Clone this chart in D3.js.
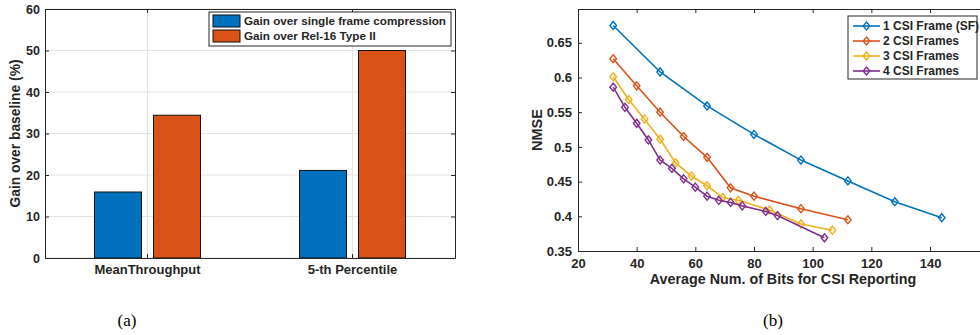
<!DOCTYPE html>
<html>
<head>
<meta charset="utf-8">
<script src="https://cdn.jsdelivr.net/npm/d3@7"></script>
<style>
  body { margin: 0; background: #fff; }
  svg text { font-family: "Liberation Sans", Arial, Helvetica, sans-serif; }
</style>
</head>
<body>
<svg id="fig" width="980" height="335"></svg>
<script>
// ---- panel (a) data ----
var barCategories = ["MeanThroughput", "5-th Percentile"];
var barSeries = ["Gain over single frame compression", "Gain over Rel-16 Type II"];
var gainSingleFrame = [15.9, 21.1];
var gainRel16 = [34.4, 50.0];
var barTicks = [0, 10, 20, 30, 40, 50, 60];

// ---- panel (b) data ----
var lineNames = ["1 CSI Frame (SF)", "2 CSI Frames", "3 CSI Frames", "4 CSI Frames"];
var bits1 = [32, 48, 64, 80, 96, 112, 128, 144];
var nmse1 = [0.675, 0.608, 0.559, 0.518, 0.481, 0.451, 0.421, 0.398];
var bits2 = [32, 40, 48, 56, 64, 72, 80, 96, 112];
var nmse2 = [0.627, 0.588, 0.550, 0.515, 0.485, 0.441, 0.429, 0.411, 0.395];
var bits3 = [32, 37.3, 42.7, 48, 53.3, 58.7, 64, 69.3, 74.7, 85.3, 96, 106.7];
var nmse3 = [0.601, 0.568, 0.540, 0.511, 0.477, 0.458, 0.444, 0.427, 0.423, 0.409, 0.389, 0.380];
var bits4 = [32, 36, 40, 44, 48, 52, 56, 60, 64, 68, 72, 76, 84, 88, 104];
var nmse4 = [0.586, 0.557, 0.534, 0.510, 0.481, 0.469, 0.454, 0.442, 0.429, 0.423, 0.420, 0.415, 0.407, 0.401, 0.369];
var xTicksB = [20, 40, 60, 80, 100, 120, 140];
var yTicksB = [0.35, 0.4, 0.45, 0.5, 0.55, 0.6, 0.65];

var colors = ["#0072BD", "#D95319", "#EDB120", "#7E2F8E"];
var axisColor = "#262626";

var svg = d3.select("#fig");

function styleAxis(g) {
  g.select(".domain").attr("stroke", axisColor).attr("stroke-width", 1);
  g.selectAll(".tick line").attr("stroke", axisColor);
  g.selectAll(".tick text")
    .attr("fill", axisColor)
    .style("font-size", "13px")
    .style("font-weight", "bold");
}

// ================= panel (a) =================
(function(){
  var left = 45, right = 455, top = 9, bottom = 258;
  var g = svg.append("g");

  var x = d3.scaleBand().domain(barCategories).range([left, right]);
  var xs = d3.scaleBand().domain(barSeries).range([-53, 53]).paddingInner(0.2034);
  var y = d3.scaleLinear().domain([0, 60]).range([bottom, top]);

  // grid
  g.selectAll(".hgrid").data(barTicks).enter().append("line")
    .attr("x1", left).attr("x2", right)
    .attr("y1", function(d){ return y(d); }).attr("y2", function(d){ return y(d); })
    .attr("stroke", "#e3e3e3").attr("stroke-width", 1);
  g.selectAll(".vgrid").data(barCategories).enter().append("line")
    .attr("x1", function(d){ return x(d) + x.bandwidth()/2; })
    .attr("x2", function(d){ return x(d) + x.bandwidth()/2; })
    .attr("y1", top).attr("y2", bottom)
    .attr("stroke", "#e3e3e3").attr("stroke-width", 1);

  var rows = barCategories.map(function(c, i){
    return [{cat: c, s: barSeries[0], v: gainSingleFrame[i], col: colors[0]},
            {cat: c, s: barSeries[1], v: gainRel16[i], col: colors[1]}];
  });
  var flat = [].concat.apply([], rows);

  g.selectAll(".bar").data(flat).enter().append("rect")
    .attr("x", function(d){ return x(d.cat) + x.bandwidth()/2 + xs(d.s); })
    .attr("width", xs.bandwidth())
    .attr("y", function(d){ return y(d.v); })
    .attr("height", function(d){ return y(0) - y(d.v); })
    .attr("fill", function(d){ return d.col; })
    .attr("stroke", "#111").attr("stroke-width", 1);

  // axes (ticks pointing inward)
  var ax = g.append("g").attr("transform", "translate(0," + bottom + ")")
    .call(d3.axisBottom(x).tickSizeInner(-4).tickSizeOuter(0).tickPadding(7));
  styleAxis(ax);
  var axT = g.append("g").attr("transform", "translate(0," + top + ")")
    .call(d3.axisTop(x).tickSizeInner(-4).tickSizeOuter(0).tickFormat(""));
  styleAxis(axT);
  var ay = g.append("g").attr("transform", "translate(" + left + ",0)")
    .call(d3.axisLeft(y).tickValues(barTicks).tickSizeInner(-4).tickSizeOuter(0).tickPadding(5));
  styleAxis(ay);
  ay.selectAll(".tick text").style("font-size", "12.5px");
  var ayR = g.append("g").attr("transform", "translate(" + right + ",0)")
    .call(d3.axisRight(y).tickValues(barTicks).tickSizeInner(-4).tickSizeOuter(0).tickFormat(""));
  styleAxis(ayR);

  g.append("text")
    .attr("transform", "translate(15.5," + ((top + bottom)/2) + ") rotate(-90)")
    .attr("text-anchor", "middle").attr("dy", "0.35em")
    .attr("fill", axisColor).style("font-size", "13.8px").style("font-weight", "bold")
    .text("Gain over baseline (%)");

  // legend
  var lg = g.append("g").attr("transform", "translate(209,12)");
  lg.append("rect").attr("width", 242).attr("height", 34)
    .attr("fill", "#fff").attr("stroke", axisColor).attr("stroke-width", 1);
  barSeries.forEach(function(s, i){
    lg.append("rect").attr("x", 4).attr("y", 3 + i*15).attr("width", 27).attr("height", 12)
      .attr("fill", colors[i]).attr("stroke", "#111");
    lg.append("text").attr("x", 35).attr("y", 9 + i*15).attr("dy", "0.35em")
      .attr("fill", axisColor).style("font-size", "11.7px").style("font-weight", "bold")
      .text(s);
  });

  svg.append("text").attr("x", 127).attr("y", 326).attr("text-anchor", "middle")
    .style("font-family", "'Liberation Serif', 'Times New Roman', serif").style("font-size", "17px")
    .text("(a)");
})();

// ================= panel (b) =================
(function(){
  var left = 578, right = 988.7, top = 9, bottom = 251;
  var g = svg.append("g");

  var x = d3.scaleLinear().domain([20, 160]).range([left, right]);
  var y = d3.scaleLinear().domain([0.35, 0.6987]).range([bottom, top]);

  var ax = g.append("g").attr("transform", "translate(0," + bottom + ")")
    .call(d3.axisBottom(x).tickValues(xTicksB).tickSizeInner(-4).tickSizeOuter(0).tickPadding(8));
  styleAxis(ax);
  var axT = g.append("g").attr("transform", "translate(0," + top + ")")
    .call(d3.axisTop(x).tickValues(xTicksB).tickSizeInner(-4).tickSizeOuter(0).tickFormat(""));
  styleAxis(axT);
  var ay = g.append("g").attr("transform", "translate(" + left + ",0)")
    .call(d3.axisLeft(y).tickValues(yTicksB).tickSizeInner(-4).tickSizeOuter(0).tickPadding(6)
      .tickFormat(function(d){ return String(+d.toFixed(2)); }));
  styleAxis(ay);

  var series = [
    {name: lineNames[0], xs: bits1, ys: nmse1},
    {name: lineNames[1], xs: bits2, ys: nmse2},
    {name: lineNames[2], xs: bits3, ys: nmse3},
    {name: lineNames[3], xs: bits4, ys: nmse4}
  ];
  var line = d3.line().x(function(d){ return x(d[0]); }).y(function(d){ return y(d[1]); });
  var diamond = "M0,-4L3.3,0L0,4L-3.3,0Z";

  series.forEach(function(s, i){
    var pts = s.xs.map(function(v, k){ return [v, s.ys[k]]; });
    g.append("path").datum(pts).attr("d", line)
      .attr("fill", "none").attr("stroke", colors[i]).attr("stroke-width", 1.6);
    g.selectAll(".m" + i).data(pts).enter().append("path")
      .attr("d", diamond)
      .attr("transform", function(d){ return "translate(" + x(d[0]) + "," + y(d[1]) + ")"; })
      .attr("fill", "none").attr("stroke", colors[i]).attr("stroke-width", 1.4);
  });

  g.append("text")
    .attr("x", 783).attr("y", 284).attr("text-anchor", "middle")
    .attr("fill", axisColor).style("font-size", "14.3px").style("font-weight", "bold")
    .text("Average Num. of Bits for CSI Reporting");
  g.append("text")
    .attr("transform", "translate(537," + ((top + bottom)/2) + ") rotate(-90)")
    .attr("text-anchor", "middle").attr("dy", "0.35em")
    .attr("fill", axisColor).style("font-size", "14.5px").style("font-weight", "bold")
    .text("NMSE");

  // legend
  var lg = g.append("g").attr("transform", "translate(848,16)");
  lg.append("rect").attr("width", 129).attr("height", 63)
    .attr("fill", "#fff").attr("stroke", axisColor).attr("stroke-width", 1);
  lineNames.forEach(function(n, i){
    var yy = 10 + i*15;
    lg.append("line").attr("x1", 5).attr("x2", 32).attr("y1", yy).attr("y2", yy)
      .attr("stroke", colors[i]).attr("stroke-width", 1.6);
    lg.append("path").attr("d", diamond).attr("transform", "translate(18.5," + yy + ")")
      .attr("fill", "none").attr("stroke", colors[i]).attr("stroke-width", 1.4);
    lg.append("text").attr("x", 35).attr("y", yy).attr("dy", "0.35em")
      .attr("fill", axisColor).style("font-size", "12px").style("font-weight", "bold")
      .text(n);
  });

  svg.append("text").attr("x", 773).attr("y", 326).attr("text-anchor", "middle")
    .style("font-family", "'Liberation Serif', 'Times New Roman', serif").style("font-size", "17px")
    .text("(b)");
})();
</script>
</body>
</html>
